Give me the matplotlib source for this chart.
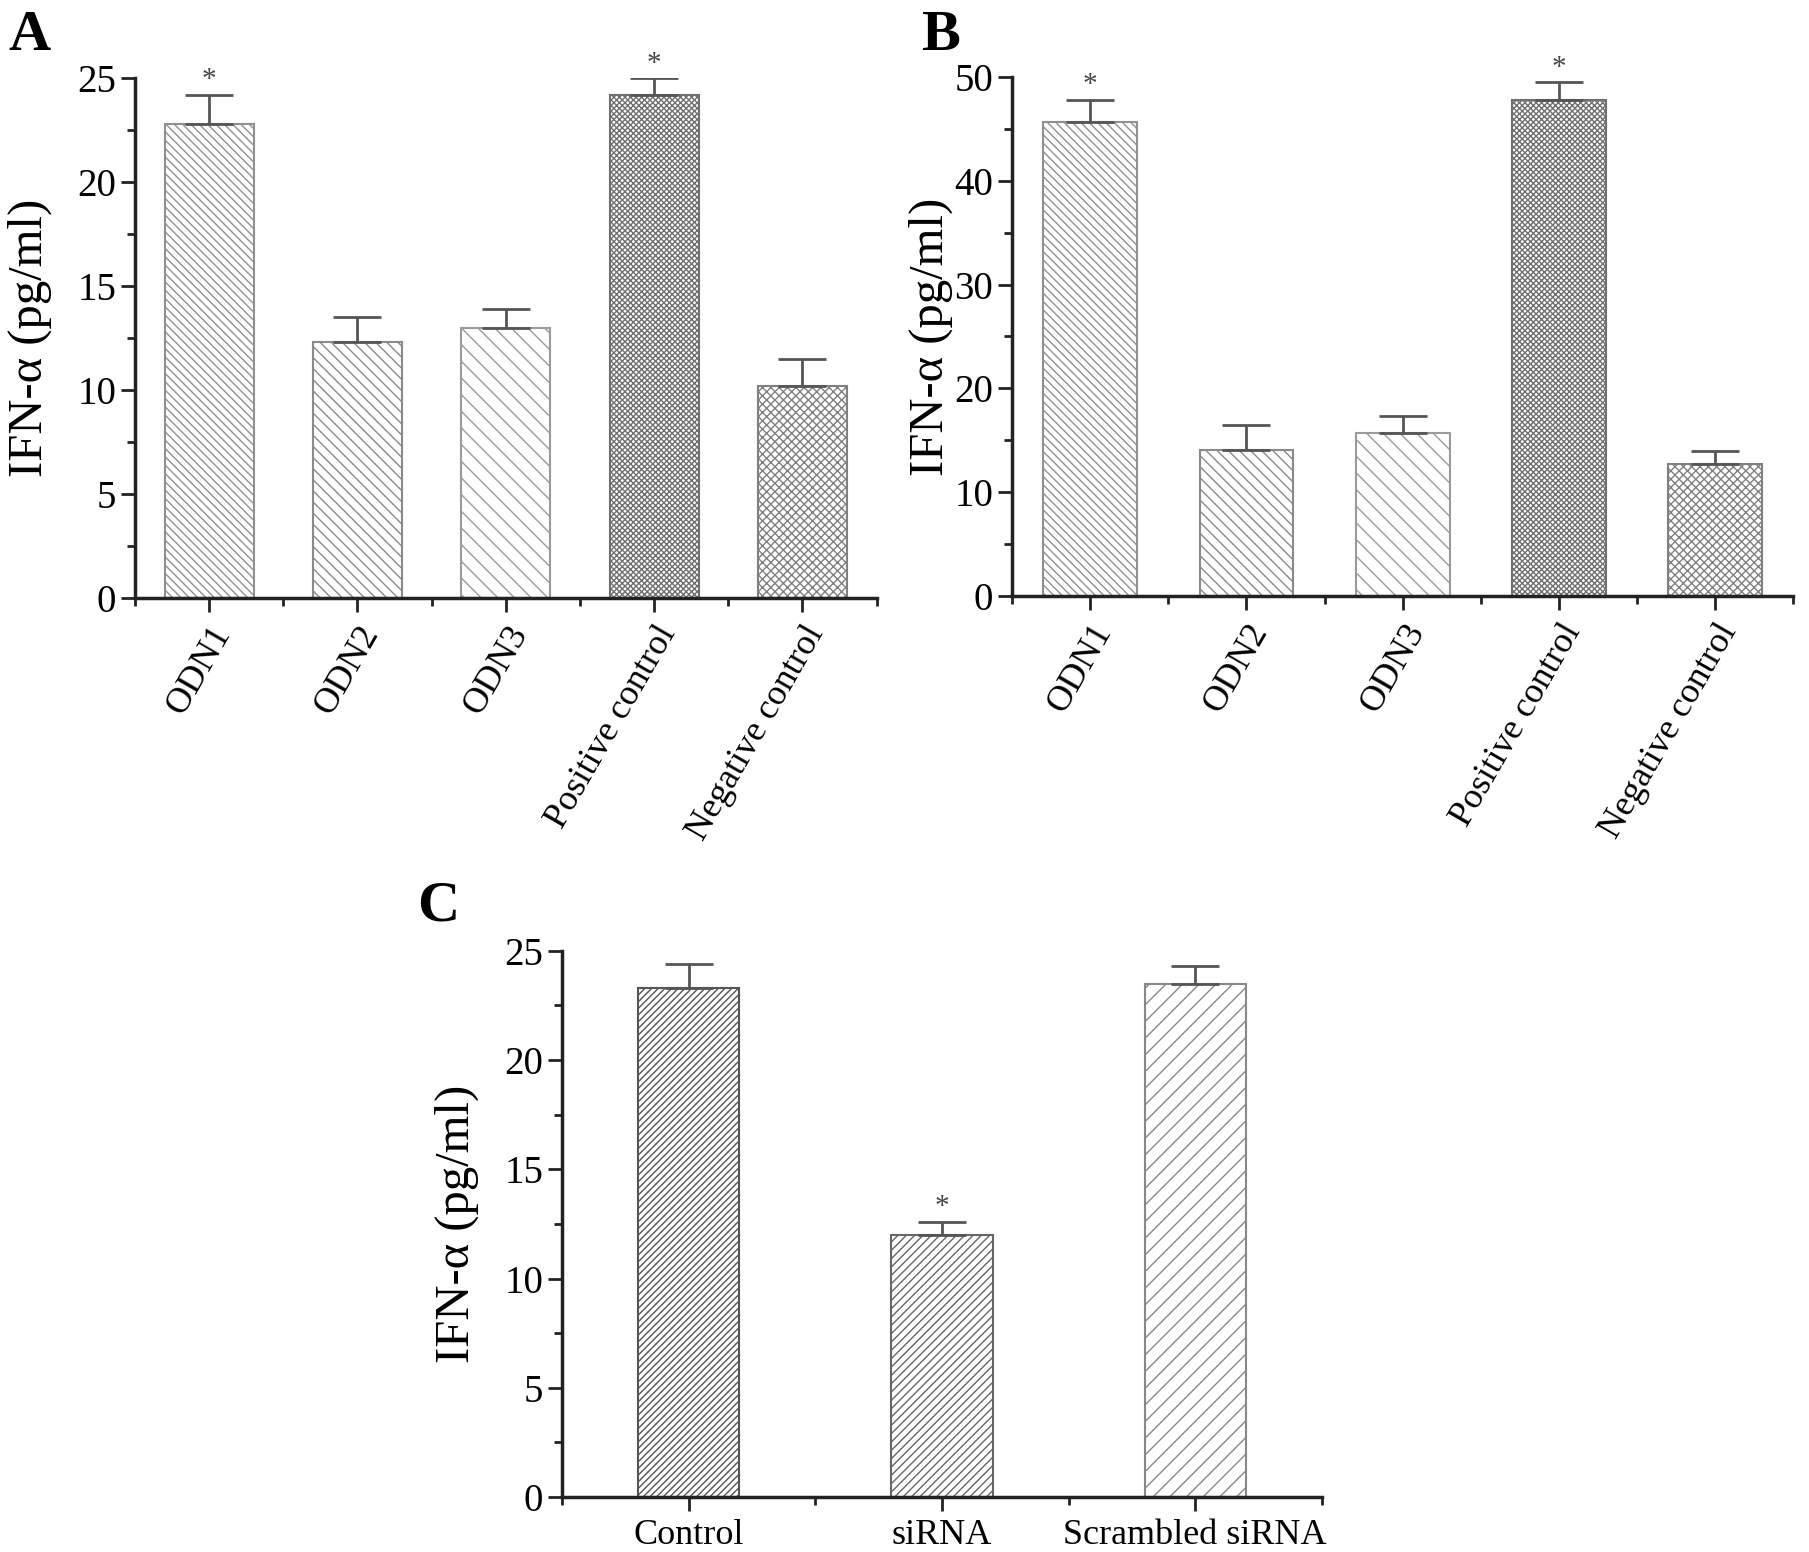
import numpy as np
import matplotlib.pyplot as plt
from matplotlib.ticker import MultipleLocator, FixedLocator

plt.rcParams['font.family'] = ['Liberation Serif', 'DejaVu Serif']
plt.rcParams['hatch.linewidth'] = 1.0

# panel A
cats_ab = ['ODN1', 'ODN2', 'ODN3', 'Positive control', 'Negative control']
a_vals = [22.8, 12.3, 13.0, 24.2, 10.2]
a_err = [1.4, 1.2, 0.9, 0.8, 1.3]
a_sig = [True, False, False, True, False]

# panel B
b_vals = [45.7, 14.1, 15.7, 47.8, 12.7]
b_err = [2.1, 2.4, 1.6, 1.7, 1.3]
b_sig = [True, False, False, True, False]

# panel C
cats_c = ['Control', 'siRNA', 'Scrambled siRNA']
c_vals = [23.3, 12.0, 23.5]
c_err = [1.1, 0.6, 0.8]
c_sig = [False, True, False]

hatch_ab = ['\\\\\\\\', '\\\\\\', '\\\\', 'xxxxxx', 'xxxx']
color_ab = ['#909090', '#8a8a8a', '#9a9a9a', '#707070', '#808080']
hatch_c = ['/////', '////', '//']
color_c = ['#555555', '#666666', '#888888']

fig = plt.figure(figsize=(18.09, 15.52), dpi=100)


def panel(rect, cats, vals, errs, sig, hatches, colors, width, ymax, major, rot, lpad):
    ax = fig.add_axes(rect)
    x = np.arange(len(cats))
    for i in range(len(cats)):
        ax.bar(x[i], vals[i], width=width, color='white', edgecolor=colors[i],
               hatch=hatches[i], linewidth=1.5, zorder=2)
    ax.errorbar(x, vals, yerr=[np.zeros(len(vals)), errs], fmt='none',
                ecolor='#555555', elinewidth=2, capsize=17, capthick=2, zorder=3)
    for i in range(len(cats)):
        if sig[i]:
            ax.text(x[i], vals[i] + errs[i] + ymax * 0.003, '*', ha='center',
                    va='bottom', fontsize=21, color='#444444')
    ax.set_xlim(-0.5, len(cats) - 0.5)
    ax.set_ylim(0, ymax)
    ax.spines['top'].set_visible(False)
    ax.spines['right'].set_visible(False)
    for s in ['left', 'bottom']:
        ax.spines[s].set_linewidth(2.5)
        ax.spines[s].set_color('#222222')
    ax.yaxis.set_major_locator(MultipleLocator(major))
    ax.yaxis.set_minor_locator(MultipleLocator(major / 2))
    ax.set_xticks(x)
    ax.xaxis.set_minor_locator(FixedLocator(np.arange(len(cats) + 1) - 0.5))
    ax.tick_params(which='major', length=10, width=2, labelsize=28, color='#222222')
    ax.tick_params(which='minor', length=6, width=2, color='#222222')
    if rot:
        ax.set_xticklabels(cats, rotation=60, ha='right', rotation_mode='anchor')
    else:
        ax.set_xticklabels(cats)
    ax.tick_params(axis='x', labelsize=26, pad=6)
    ax.set_ylabel('IFN-α (pg/ml)', fontsize=35, labelpad=lpad)
    return ax


axA = panel([0.0746, 0.6147, 0.410, 0.335], cats_ab, a_vals, a_err, a_sig,
            hatch_ab, color_ab, 0.6, 25, 5, True, 18)
axB = panel([0.5594, 0.616, 0.432, 0.3344], cats_ab, b_vals, b_err, b_sig,
            hatch_ab, color_ab, 0.6, 50, 10, True, 1)
axC = panel([0.3107, 0.0354, 0.420, 0.352], cats_c, c_vals, c_err, c_sig,
            hatch_c, color_c, 0.4, 25, 5, False, 18)

fig.text(0.016, 0.977, 'A', fontsize=42, fontweight='bold', va='center', ha='center')
fig.text(0.520, 0.977, 'B', fontsize=42, fontweight='bold', va='center', ha='center')
fig.text(0.242, 0.416, 'C', fontsize=42, fontweight='bold', va='center', ha='center')

fig.savefig('out.png', dpi=100)
